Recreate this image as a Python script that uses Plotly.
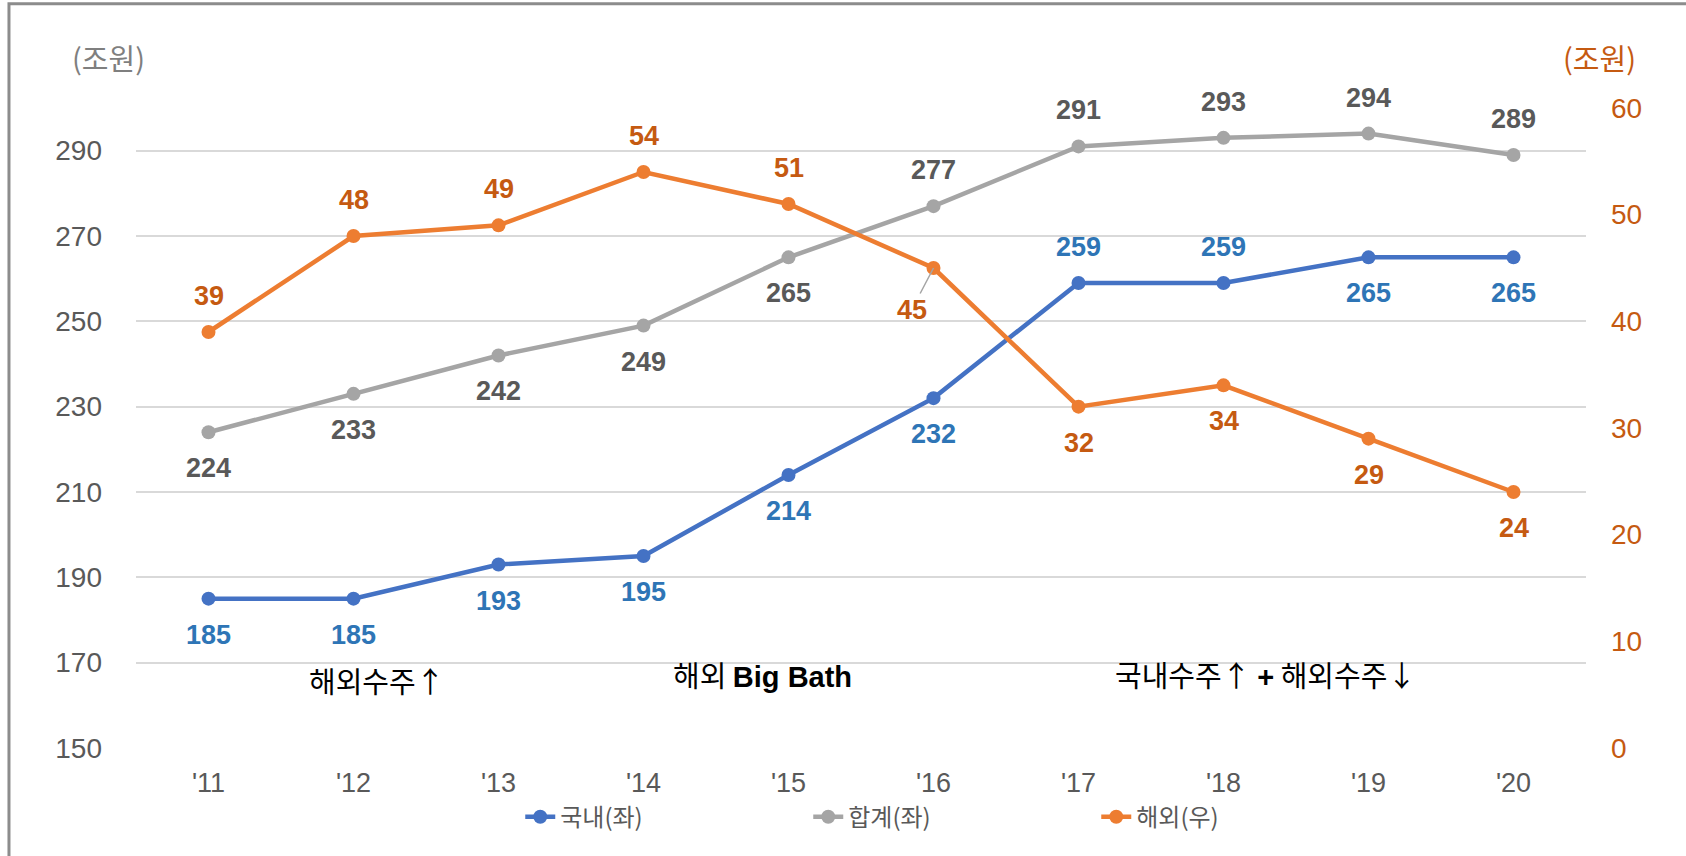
import plotly.graph_objects as go

years = ["'11", "'12", "'13", "'14", "'15", "'16", "'17", "'18", "'19", "'20"]
domestic = [185, 185, 193, 195, 214, 232, 259, 259, 265, 265]
total = [224, 233, 242, 249, 265, 277, 291, 293, 294, 289]
overseas = [39, 48, 49, 54, 51, 45, 32, 34, 29, 24]

# label side per point: +1 above, -1 below
domestic_side = [-1, -1, -1, -1, -1, -1, 1, 1, -1, -1]
total_side = [-1, -1, -1, -1, -1, 1, 1, 1, 1, 1]
overseas_side = [1, 1, 1, 1, 1, -1, -1, -1, -1, -1]

BLUE, GRAY, ORANGE = "#4472C4", "#A5A5A5", "#ED7D31"
BLUE_T, GRAY_T, ORANGE_T = "#2E75B6", "#595959", "#C55A11"
FONT = "Liberation Sans, Arial, Noto Sans CJK KR"
KFONT = "Noto Sans CJK KR, Liberation Sans"

fig = go.Figure()
fig.add_trace(go.Scatter(x=years, y=domestic, name="국내(좌)", mode="lines+markers",
                         line=dict(color=BLUE, width=4.5), marker=dict(size=14, color=BLUE)))
fig.add_trace(go.Scatter(x=years, y=total, name="합계(좌)", mode="lines+markers",
                         line=dict(color=GRAY, width=4.5), marker=dict(size=14, color=GRAY)))
fig.add_trace(go.Scatter(x=years, y=overseas, name="해외(우)", mode="lines+markers", yaxis="y2",
                         line=dict(color=ORANGE, width=4.5), marker=dict(size=14, color=ORANGE)))

label_font = dict(family=FONT, size=27)
for vals, sides, col, yref in [(domestic, domestic_side, BLUE_T, "y"),
                               (total, total_side, GRAY_T, "y"),
                               (overseas, overseas_side, ORANGE_T, "y2")]:
    for i, (v, s) in enumerate(zip(vals, sides)):
        if yref == "y2" and years[i] == "'16":
            fig.add_annotation(x=years[i], y=v, xref="x", yref=yref, text=f"<b>{v}</b>",
                               showarrow=True, arrowhead=0, arrowwidth=1.5, arrowcolor="#A5A5A5",
                               ax=-22, ay=42, standoff=0,
                               font=dict(label_font, color=col))
            continue
        fig.add_annotation(x=years[i], y=v, xref="x", yref=yref, text=f"<b>{v}</b>",
                           showarrow=False, yshift=36 * s,
                           font=dict(label_font, color=col))

latin = "<span style='font-family:Liberation Sans, Arial'><b>{}</b></span>"
note_font = dict(family=KFONT, size=29, color="#000000")
fig.add_annotation(x=0.166, y=0.107, xref="paper", yref="paper", text="해외수주↑",
                   showarrow=False, xanchor="center", yanchor="middle", font=note_font)
fig.add_annotation(x=0.432, y=0.115, xref="paper", yref="paper",
                   text="해외 " + latin.format("Big Bath"),
                   showarrow=False, xanchor="center", yanchor="middle", font=note_font)
fig.add_annotation(x=0.779, y=0.115, xref="paper", yref="paper",
                   text="국내수주↑ " + latin.format("+") + " 해외수주↓",
                   showarrow=False, xanchor="center", yanchor="middle", font=note_font)

fig.add_annotation(x=-0.0193, y=1.079, xref="paper", yref="paper", text="(조원)",
                   showarrow=False, xanchor="center", yanchor="middle",
                   font=dict(family=KFONT, size=29, color="#7F7F7F"))
fig.add_annotation(x=1.009, y=1.079, xref="paper", yref="paper", text="(조원)",
                   showarrow=False, xanchor="center", yanchor="middle",
                   font=dict(family=KFONT, size=29, color=ORANGE_T))

# outer frame
fig.add_shape(type="rect", xref="paper", yref="paper", x0=-0.0876, x1=1.2, y0=-0.3, y1=1.163,
              line=dict(color="#8C8C8C", width=3), layer="below")

fig.update_layout(
    width=1686, height=856,
    margin=dict(l=136, r=100, t=108, b=108),
    plot_bgcolor="white", paper_bgcolor="white",
    showlegend=True,
    legend=dict(orientation="h", x=0.265, xanchor="left", y=-0.108, yanchor="middle",
                bgcolor="rgba(0,0,0,0)",
                font=dict(family=KFONT, size=24, color="#595959"), entrywidth=243),
    xaxis=dict(type="category", range=[-0.5, 9.5], showgrid=False, showline=False, zeroline=False,
               tickfont=dict(family=FONT, size=27, color="#595959"), ticklabelstandoff=16),
    yaxis=dict(range=[150, 300], tick0=150, dtick=20, showgrid=True, gridcolor="#D9D9D9",
               gridwidth=1.5, zeroline=False, showline=False,
               tickfont=dict(family=FONT, size=28, color="#595959"), ticklabelstandoff=33),
    yaxis2=dict(range=[0, 60], dtick=10, overlaying="y", side="right", showgrid=False,
                zeroline=False, showline=False,
                tickfont=dict(family=FONT, size=28, color=ORANGE_T), ticklabelstandoff=24),
    hovermode=False,
)

fig.write_html("out.html", config={"displayModeBar": False},
               post_script="document.body.style.margin='0';")
